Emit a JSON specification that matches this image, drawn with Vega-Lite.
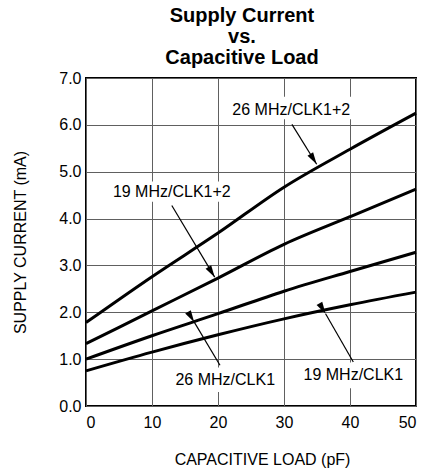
{
  "$schema": "https://vega.github.io/schema/vega-lite/v6.json",
  "width": 330,
  "height": 328,
  "autosize": {"type": "none"},
  "padding": {"left": 86, "top": 78, "right": 6, "bottom": 67},
  "background": "white",
  "title": {
    "text": ["Supply Current", "vs.", "Capacitive Load"],
    "font": "Liberation Sans",
    "fontSize": 20,
    "fontWeight": "bold",
    "lineHeight": 21,
    "color": "black",
    "offset": 2,
    "dx": -9
  },
  "config": {
    "font": "Liberation Sans",
    "view": {"stroke": "black", "strokeWidth": 2},
    "axis": {
      "grid": true,
      "gridColor": "#606060",
      "gridWidth": 1,
      "ticks": false,
      "domain": false,
      "labelFont": "Liberation Sans",
      "labelFontSize": 16,
      "labelColor": "black",
      "titleFont": "Liberation Sans",
      "titleFontSize": 16,
      "titleFontWeight": "normal",
      "titleColor": "black"
    },
    "axisX": {"tickCount": 5, "labelPadding": 8, "labelAngle": 0, "titleX": 176, "titleY": 58, "titleBaseline": "alphabetic"},
    "axisY": {"tickCount": 7, "labelPadding": 5, "titleX": -61, "titleY": 164, "titleAngle": -90, "titleAlign": "center", "titleBaseline": "alphabetic"}
  },
  "datasets": {
    "curves": [
      {"series": "26 MHz/CLK1+2", "load": 0, "current": 1.78},
      {"series": "26 MHz/CLK1+2", "load": 10, "current": 2.76},
      {"series": "26 MHz/CLK1+2", "load": 20, "current": 3.69},
      {"series": "26 MHz/CLK1+2", "load": 30, "current": 4.67},
      {"series": "26 MHz/CLK1+2", "load": 40, "current": 5.48},
      {"series": "26 MHz/CLK1+2", "load": 50, "current": 6.25},
      {"series": "19 MHz/CLK1+2", "load": 0, "current": 1.33},
      {"series": "19 MHz/CLK1+2", "load": 10, "current": 2.03},
      {"series": "19 MHz/CLK1+2", "load": 20, "current": 2.73},
      {"series": "19 MHz/CLK1+2", "load": 30, "current": 3.45},
      {"series": "19 MHz/CLK1+2", "load": 40, "current": 4.04},
      {"series": "19 MHz/CLK1+2", "load": 50, "current": 4.63},
      {"series": "26 MHz/CLK1", "load": 0, "current": 1.0},
      {"series": "26 MHz/CLK1", "load": 10, "current": 1.5},
      {"series": "26 MHz/CLK1", "load": 20, "current": 1.97},
      {"series": "26 MHz/CLK1", "load": 30, "current": 2.45},
      {"series": "26 MHz/CLK1", "load": 40, "current": 2.87},
      {"series": "26 MHz/CLK1", "load": 50, "current": 3.28},
      {"series": "19 MHz/CLK1", "load": 0, "current": 0.75},
      {"series": "19 MHz/CLK1", "load": 10, "current": 1.15},
      {"series": "19 MHz/CLK1", "load": 20, "current": 1.52},
      {"series": "19 MHz/CLK1", "load": 30, "current": 1.86},
      {"series": "19 MHz/CLK1", "load": 40, "current": 2.16},
      {"series": "19 MHz/CLK1", "load": 50, "current": 2.43}
    ],
    "labels": [
      {"label": "26 MHz/CLK1+2", "load": 31.1, "current": 6.32, "boxLoad": 21.0, "boxLoad2": 41.2, "boxCurrent": 6.12, "boxCurrent2": 6.6, "arrowLoad": 31.2, "arrowCurrent": 6.01, "tipLoad": 34.95, "tipCurrent": 5.16},
      {"label": "19 MHz/CLK1+2", "load": 13.0, "current": 4.56, "boxLoad": 3.0, "boxLoad2": 23.0, "boxCurrent": 4.36, "boxCurrent2": 4.79, "arrowLoad": 13.0, "arrowCurrent": 4.28, "tipLoad": 19.5, "tipCurrent": 2.75},
      {"label": "26 MHz/CLK1", "load": 21.1, "current": 0.55, "boxLoad": 13.9, "boxLoad2": 28.3, "boxCurrent": 0.3, "boxCurrent2": 0.82, "arrowLoad": 20.3, "arrowCurrent": 0.87, "tipLoad": 16.4, "tipCurrent": 1.79},
      {"label": "19 MHz/CLK1", "load": 40.5, "current": 0.66, "boxLoad": 32.6, "boxLoad2": 48.8, "boxCurrent": 0.38, "boxCurrent2": 0.93, "arrowLoad": 40.5, "arrowCurrent": 0.94, "tipLoad": 36.3, "tipCurrent": 1.97}
    ]
  },
  "layer": [
    {
      "data": {"name": "labels"},
      "mark": {"type": "rect", "fill": "white", "stroke": null},
      "encoding": {
        "x": {"field": "boxLoad", "type": "quantitative", "scale": {"domain": [0, 50], "nice": false}, "title": "CAPACITIVE LOAD (pF)"},
        "x2": {"field": "boxLoad2"},
        "y": {"field": "boxCurrent", "type": "quantitative", "scale": {"domain": [0, 7], "nice": false}, "axis": {"format": ".1f"}, "title": "SUPPLY CURRENT (mA)"},
        "y2": {"field": "boxCurrent2"}
      }
    },
    {
      "data": {"name": "curves"},
      "mark": {"type": "line", "color": "black", "strokeWidth": 3, "interpolate": "monotone"},
      "encoding": {
        "x": {"field": "load", "type": "quantitative", "title": "CAPACITIVE LOAD (pF)"},
        "y": {"field": "current", "type": "quantitative", "axis": {"format": ".1f"}, "title": "SUPPLY CURRENT (mA)"},
        "detail": {"field": "series", "type": "nominal"}
      }
    },
    {
      "data": {"name": "labels"},
      "mark": {"type": "rule", "color": "black", "strokeWidth": 1.2},
      "encoding": {
        "x": {"field": "arrowLoad", "type": "quantitative", "title": "CAPACITIVE LOAD (pF)"},
        "x2": {"field": "tipLoad"},
        "y": {"field": "arrowCurrent", "type": "quantitative", "axis": {"format": ".1f"}, "title": "SUPPLY CURRENT (mA)"},
        "y2": {"field": "tipCurrent"}
      }
    },
    {
      "data": {"name": "labels"},
      "mark": {"type": "point", "shape": "M0,0L-0.33,1.2L0.33,1.2Z", "filled": true, "color": "black", "opacity": 1, "size": 400, "strokeWidth": 0},
      "encoding": {
        "x": {"field": "tipLoad", "type": "quantitative", "title": "CAPACITIVE LOAD (pF)"},
        "y": {"field": "tipCurrent", "type": "quantitative", "axis": {"format": ".1f"}, "title": "SUPPLY CURRENT (mA)"},
        "angle": {"field": "label", "type": "nominal", "scale": {"domain": ["26 MHz/CLK1+2", "19 MHz/CLK1+2", "26 MHz/CLK1", "19 MHz/CLK1"], "range": [148, 149, -30.7, -29.7]}, "legend": null}
      }
    },
    {
      "data": {"name": "labels"},
      "mark": {"type": "text", "font": "Liberation Sans", "fontSize": 16, "color": "black", "align": "center", "baseline": "middle"},
      "encoding": {
        "x": {"field": "load", "type": "quantitative", "title": "CAPACITIVE LOAD (pF)"},
        "y": {"field": "current", "type": "quantitative", "axis": {"format": ".1f"}, "title": "SUPPLY CURRENT (mA)"},
        "text": {"field": "label", "type": "nominal"}
      }
    }
  ]
}
